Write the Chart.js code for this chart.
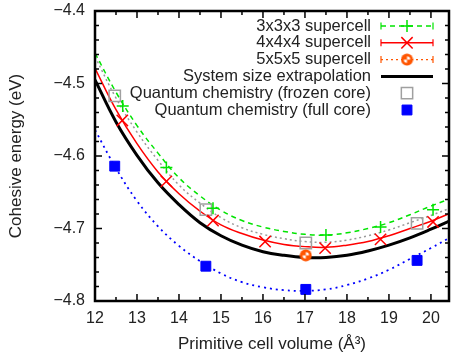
<!DOCTYPE html>
<html>
<head>
<meta charset="utf-8">
<script src="https://cdn.jsdelivr.net/npm/chart.js@4/dist/chart.umd.min.js"></script>
<style>
  html, body { margin: 0; padding: 0; background: #fff; }
</style>
</head>
<body>
<canvas id="c" width="452" height="358"></canvas>
<script>
// tick labels
const xTicks = [12, 13, 14, 15, 16, 17, 18, 19, 20];
const yTicks = [-4.8, -4.7, -4.6, -4.5, -4.4];

// supercell results
const vol3 = [12.66, 13.70, 14.81, 17.50, 18.80, 20.05];
const energy3 = [-4.531, -4.616, -4.672, -4.709, -4.698, -4.674];
const vol4 = [12.65, 13.70, 14.81, 16.05, 17.48, 18.80, 20.05];
const energy4 = [-4.551, -4.635, -4.689, -4.718, -4.727, -4.715, -4.691];
const vol5 = [17.02];
const energy5 = [-4.737];

// quantum chemistry results
const volQC = [12.47, 14.64, 17.02, 19.67];
const energyFrozen = [-4.517, -4.674, -4.720, -4.693];
const energyFull = [-4.614, -4.752, -4.784, -4.744];

// fitted curves
const fitVol = [12, 12.5, 13, 13.5, 14, 14.5, 15, 15.5, 16, 16.5, 17, 17.5, 18, 18.5, 19, 19.5, 20, 20.5];
const fit3 = [-4.458, -4.512, -4.558, -4.596, -4.630, -4.655, -4.675, -4.689, -4.698, -4.704, -4.708, -4.709, -4.706, -4.700, -4.692, -4.681, -4.669, -4.658];
const fit4 = [-4.479, -4.536, -4.583, -4.622, -4.652, -4.676, -4.695, -4.707, -4.716, -4.722, -4.725, -4.726, -4.723, -4.718, -4.710, -4.700, -4.690, -4.678];
const fitExtrap = [-4.495, -4.553, -4.599, -4.637, -4.667, -4.692, -4.710, -4.723, -4.732, -4.737, -4.740, -4.740, -4.737, -4.731, -4.723, -4.713, -4.701, -4.688];
const fitFrozen = [-4.463, -4.520, -4.567, -4.606, -4.640, -4.665, -4.685, -4.699, -4.708, -4.714, -4.718, -4.719, -4.716, -4.710, -4.702, -4.692, -4.682, -4.671];
const fitFull = [-4.564, -4.617, -4.662, -4.697, -4.724, -4.745, -4.762, -4.774, -4.781, -4.785, -4.786, -4.784, -4.778, -4.769, -4.757, -4.742, -4.727, -4.711];

const FONT = '"Liberation Sans", Arial, Helvetica, sans-serif';
const TEXT = '#222';
const GREEN = '#00e400';
const RED = '#ff0000';
const ORANGE = '#ff5500';
const GRAY = '#a0a0a0';
const BLUE = '#0000ff';

function toXY(xs, ys) {
    return xs.map((x, i) => ({ x, y: ys[i] }));
}

// orange disc marker with white quadrants
function makeDisc() {
    const cv = document.createElement('canvas');
    cv.width = 13; cv.height = 13;
    const g = cv.getContext('2d');
    g.fillStyle = ORANGE;
    g.beginPath(); g.arc(6.5, 6.5, 6, 0, Math.PI * 2); g.fill();
    g.fillStyle = '#fff';
    g.beginPath(); g.moveTo(6.5, 6.5); g.arc(6.5, 6.5, 3.2, -Math.PI / 2, 0); g.closePath(); g.fill();
    g.beginPath(); g.moveTo(6.5, 6.5); g.arc(6.5, 6.5, 3.2, Math.PI / 2, Math.PI); g.closePath(); g.fill();
    return cv;
}
const disc = makeDisc();

function pointSet(label, data, style, order) {
    return Object.assign({ label, data, showLine: false, order }, style);
}

function fitSet(label, data, color, width, dash, order) {
    return {
        label, data, showLine: true, borderColor: color, borderWidth: width,
        borderDash: dash, pointRadius: 0, tension: 0.4, order,
    };
}

// frame + inward ticks in gnuplot style
const framePlugin = {
    id: 'frame',
    afterDatasetsDraw(chart) {
        const { ctx, chartArea: a, scales: { x, y } } = chart;
        ctx.save();
        ctx.strokeStyle = '#000';
        ctx.lineWidth = 1.5;
        ctx.beginPath();
        for (let v = 12; v <= 20.5; v += 0.5) {
            const px = x.getPixelForValue(v);
            if (px > a.right) break;
            const len = Number.isInteger(v) ? 7 : 4;
            ctx.moveTo(px, a.bottom); ctx.lineTo(px, a.bottom - len);
            ctx.moveTo(px, a.top); ctx.lineTo(px, a.top + len);
        }
        for (let i = 0; i <= 20; i++) {
            const v = -4.8 + i * 0.02;
            const py = y.getPixelForValue(v);
            const len = i % 5 === 0 ? 7 : 4;
            ctx.moveTo(a.left, py); ctx.lineTo(a.left + len, py);
            ctx.moveTo(a.right, py); ctx.lineTo(a.right - len, py);
        }
        ctx.stroke();
        ctx.lineWidth = 2.5;
        ctx.strokeRect(a.left, a.top, a.right - a.left, a.bottom - a.top);
        ctx.restore();
    },
};

// key at top right, text right-aligned before the sample
const keyPlugin = {
    id: 'key',
    afterDraw(chart, args, opts) {
        const { ctx } = chart;
        ctx.save();
        ctx.font = `${opts.size}px ${FONT}`;
        ctx.textAlign = 'right';
        ctx.textBaseline = 'middle';
        opts.rows.forEach((row, i) => {
            const yy = opts.top + i * opts.step;
            ctx.fillStyle = TEXT;
            ctx.fillText(row.label, opts.textRight, yy);
            const x0 = opts.sampleLeft, x1 = opts.sampleRight, xm = (x0 + x1) / 2;
            if (row.line) {
                ctx.strokeStyle = row.color;
                ctx.lineWidth = row.width;
                ctx.setLineDash(row.dash || []);
                ctx.beginPath(); ctx.moveTo(x0, yy); ctx.lineTo(x1, yy); ctx.stroke();
                ctx.setLineDash([]);
            }
            if (row.bars) {
                ctx.strokeStyle = row.color;
                ctx.lineWidth = 1.2;
                ctx.beginPath();
                ctx.moveTo(x0, yy - 3.5); ctx.lineTo(x0, yy + 3.5);
                ctx.moveTo(x1, yy - 3.5); ctx.lineTo(x1, yy + 3.5);
                ctx.stroke();
            }
            const ds = chart.data.datasets[row.dataset];
            if (row.marker && ds) {
                ctx.fillStyle = ds.backgroundColor;
                ctx.strokeStyle = ds.borderColor;
                ctx.lineWidth = ds.borderWidth;
                Chart.helpers.drawPoint(ctx, {
                    pointStyle: ds.pointStyle,
                    radius: ds.pointRadius,
                    borderWidth: ds.borderWidth,
                    rotation: 0,
                }, xm, yy);
            }
        });
        ctx.restore();
    },
};

const datasets = [
    pointSet('3x3x3 supercell', toXY(vol3, energy3),
        { pointStyle: 'cross', pointRadius: 6, borderColor: GREEN, backgroundColor: GREEN, borderWidth: 1.5 }, 1),
    pointSet('4x4x4 supercell', toXY(vol4, energy4),
        { pointStyle: 'crossRot', pointRadius: 8, borderColor: RED, backgroundColor: RED, borderWidth: 1.5 }, 1),
    pointSet('5x5x5 supercell', toXY(vol5, energy5),
        { pointStyle: disc, pointRadius: 6, borderColor: ORANGE, backgroundColor: ORANGE, borderWidth: 1 }, 1),
    fitSet('System size extrapolation', toXY(fitVol, fitExtrap), '#000', 3, [], 3),
    pointSet('Quantum chemistry (frozen core)', toXY(volQC, energyFrozen),
        { pointStyle: 'rect', pointRadius: 8, borderColor: GRAY, backgroundColor: 'rgba(255,255,255,0)', borderWidth: 1.5 }, 1),
    pointSet('Quantum chemistry (full core)', toXY(volQC, energyFull),
        { pointStyle: 'rect', pointRadius: 7, borderColor: BLUE, backgroundColor: BLUE, borderWidth: 1 }, 1),
    fitSet('3x3x3 fit', toXY(fitVol, fit3), GREEN, 1.5, [5, 4], 4),
    fitSet('4x4x4 fit', toXY(fitVol, fit4), RED, 1.5, [], 4),
    fitSet('frozen core fit', toXY(fitVol, fitFrozen), '#999', 1.5, [2, 3], 4),
    fitSet('full core fit', toXY(fitVol, fitFull), BLUE, 1.8, [2, 4], 4),
];

new Chart(document.getElementById('c'), {
    type: 'scatter',
    data: { datasets },
    options: {
        responsive: false,
        animation: false,
        devicePixelRatio: 1,
        layout: { autoPadding: false, padding: { top: 11, right: 3, left: 0, bottom: 0 } },
        scales: {
            x: {
                type: 'linear', min: 12, max: 20.43,
                afterBuildTicks: (s) => { s.ticks = xTicks.map((v) => ({ value: v })); },
                afterFit: (s) => { s.height = 57; s.paddingLeft = 0; s.paddingRight = 0; },
                grid: { display: false, drawTicks: false },
                border: { display: false },
                ticks: { padding: 8, color: TEXT, font: { family: FONT, size: 16 } },
                title: {
                    display: true, text: 'Primitive cell volume (Å³)', color: TEXT,
                    font: { family: FONT, size: 17 }, padding: { top: 0, bottom: 3 },
                },
            },
            y: {
                type: 'linear', min: -4.8, max: -4.4,
                afterBuildTicks: (s) => { s.ticks = yTicks.map((v) => ({ value: v })); },
                afterFit: (s) => { s.width = 95; s.paddingTop = 0; s.paddingBottom = 0; },
                grid: { display: false, drawTicks: false },
                border: { display: false },
                ticks: {
                    padding: 10, color: TEXT, font: { family: FONT, size: 16 },
                    callback: (v) => v.toFixed(1).replace('-', '\u2212'),
                },
                title: {
                    display: true, text: 'Cohesive energy (eV)', color: TEXT,
                    font: { family: FONT, size: 17 }, padding: { top: 6, bottom: 0 },
                },
            },
        },
        plugins: {
            legend: { display: false },
            tooltip: { enabled: false },
            key: {
                size: 16.5, top: 26, step: 16.8, textRight: 371, sampleLeft: 381, sampleRight: 433,
                rows: [
                    { label: '3x3x3 supercell', dataset: 0, marker: true, line: true, color: GREEN, width: 1.5, dash: [5, 4], bars: true },
                    { label: '4x4x4 supercell', dataset: 1, marker: true, line: true, color: RED, width: 1.5, bars: true },
                    { label: '5x5x5 supercell', dataset: 2, marker: true, line: true, color: ORANGE, width: 1.2, dash: [2, 3], bars: true },
                    { label: 'System size extrapolation', dataset: 3, line: true, color: '#000', width: 3 },
                    { label: 'Quantum chemistry (frozen core)', dataset: 4, marker: true },
                    { label: 'Quantum chemistry (full core)', dataset: 5, marker: true },
                ],
            },
        },
    },
    plugins: [framePlugin, keyPlugin],
});
</script>
</body>
</html>
